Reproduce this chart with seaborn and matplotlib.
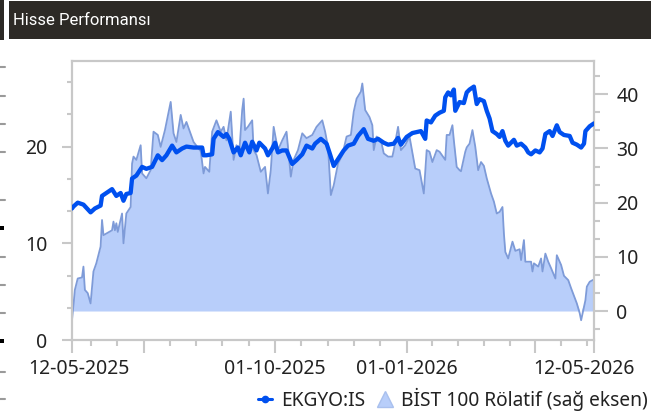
import numpy as np
import pandas as pd
import matplotlib
matplotlib.use("Agg")
import matplotlib.pyplot as plt
import matplotlib.dates as mdates
import matplotlib.transforms as mtransforms
from matplotlib.ticker import MultipleLocator
from matplotlib.lines import Line2D
from matplotlib.patches import Rectangle
import seaborn as sns

# ---------------- data ----------------
START = "2025-05-12"
END = "2026-05-12"

# EKGYO:IS price (left axis); days counted from START
ekgyo_days = [0, 1, 4, 8, 13, 16, 20, 21, 25, 28, 31, 34, 36, 38, 41, 42, 45, 49, 52, 56,
              60, 63, 66, 70, 73, 77, 80, 85, 91, 92, 94, 98, 99, 102, 106, 108, 110, 113,
              116, 118, 121, 124, 126, 129, 131, 135, 137, 140, 142, 144, 147, 150, 154, 157,
              161, 164, 168, 170, 174, 178, 180, 183, 186, 190, 193, 197, 200, 204, 207, 211,
              214, 218, 221, 225, 228, 230, 234, 238, 241, 244, 247, 248, 251, 254, 257, 260,
              261, 263, 265, 267, 268, 271, 274, 276, 278, 281, 283, 285, 288, 290, 292, 294,
              297, 299, 301, 303, 305, 309, 311, 314, 317, 319, 321, 324, 327, 329, 331, 334,
              336, 339, 341, 344, 348, 350, 353, 356, 358, 359, 362, 364, 365]
ekgyo_values = [13.6, 13.8, 14.2, 14.0, 13.2, 13.6, 13.9, 14.9, 15.3, 15.6, 14.9, 15.2, 14.4, 15.1,
                15.2, 16.7, 17.0, 17.9, 17.7, 17.9, 19.1, 18.6, 19.1, 20.1, 19.4, 19.8, 20.0, 19.9,
                19.9, 19.1, 19.1, 19.2, 20.8, 21.5, 21.0, 21.3, 20.8, 19.4, 19.9, 19.1, 20.4, 19.4,
                20.5, 19.6, 20.4, 19.8, 19.1, 19.8, 20.4, 19.4, 19.6, 19.6, 18.2, 18.6, 19.2, 20.1,
                19.8, 20.3, 20.8, 20.3, 19.4, 18.0, 18.7, 19.6, 20.1, 20.3, 21.1, 21.8, 20.8, 20.6,
                20.8, 20.4, 20.2, 20.3, 20.9, 20.2, 21.0, 21.4, 21.5, 21.6, 20.8, 22.7, 22.5, 23.2,
                23.5, 23.7, 25.1, 25.6, 25.3, 25.9, 23.7, 24.6, 24.5, 25.6, 25.9, 26.2, 24.4, 24.9,
                24.7, 23.7, 22.9, 21.6, 21.3, 21.0, 21.6, 20.6, 20.1, 20.7, 20.1, 20.3, 19.9, 19.4,
                19.2, 19.6, 19.4, 19.8, 21.3, 21.6, 21.1, 22.2, 21.5, 21.2, 21.1, 20.4, 20.2, 19.9,
                20.3, 21.6, 22.1, 22.3, 22.4]

# BIST 100 relative (right axis); days counted from START
bist_days = [0, 2, 4, 7, 8, 9, 11, 13, 15, 17, 20, 21, 22, 28, 29, 30, 31, 32, 35, 36, 38, 41,
             42, 43, 45, 48, 49, 52, 55, 57, 60, 62, 65, 69, 71, 73, 76, 78, 80, 85, 90, 92, 93,
             96, 98, 101, 104, 106, 108, 111, 113, 115, 117, 119, 120, 121, 123, 126, 127, 129,
             132, 135, 137, 139, 141, 144, 147, 150, 153, 155, 158, 161, 164, 168, 171, 175, 177,
             179, 181, 183, 186, 189, 192, 195, 197, 199, 202, 203, 205, 208, 210, 211, 213, 216,
             218, 221, 224, 225, 228, 230, 233, 236, 240, 243, 246, 248, 250, 252, 255, 257, 261,
             262, 264, 266, 267, 269, 271, 272, 275, 276, 278, 280, 282, 284, 286, 288, 290, 293,
             295, 297, 299, 301, 302, 303, 305, 308, 310, 313, 314, 316, 317, 321, 322, 323, 326,
             328, 329, 331, 333, 335, 338, 339, 342, 344, 347, 349, 353, 355, 356, 359, 360, 362,
             364, 365]
bist_values = [-1.7, 3.9, 6.0, 6.2, 8.2, 3.9, 3.3, 1.4, 7.3, 8.8, 11.9, 16.8, 14.0, 14.9, 16.5,
               14.9, 16.2, 14.6, 18.0, 12.5, 18.0, 19.2, 27.2, 28.5, 27.9, 30.6, 25.4, 24.5, 26.0,
               33.1, 32.5, 30.3, 33.4, 38.6, 32.8, 31.2, 36.2, 33.7, 34.9, 31.2, 29.5, 25.4, 26.6,
               25.7, 33.1, 35.2, 33.1, 34.0, 31.5, 36.8, 27.9, 30.6, 29.4, 37.1, 39.2, 33.4, 34.0,
               35.2, 29.7, 28.8, 25.7, 26.6, 21.7, 26.0, 34.0, 29.7, 31.5, 33.1, 24.8, 27.9, 29.7,
               32.8, 31.9, 32.5, 34.0, 35.2, 33.1, 30.3, 21.4, 23.2, 27.2, 28.8, 32.2, 32.5, 36.8,
               39.2, 40.5, 42.0, 37.1, 35.8, 34.3, 29.7, 32.2, 31.5, 29.1, 28.5, 28.5, 29.7, 34.0,
               29.7, 30.6, 32.2, 26.3, 26.0, 21.7, 29.7, 29.4, 27.5, 29.7, 29.4, 27.9, 32.5, 32.5,
               34.3, 31.5, 26.6, 26.0, 25.8, 29.4, 30.2, 30.9, 33.4, 30.3, 26.0, 27.5, 26.8, 24.5,
               21.7, 20.2, 18.0, 18.3, 19.2, 14.3, 10.9, 9.7, 12.8, 11.1, 11.4, 9.4, 13.1, 9.1,
               9.1, 7.3, 8.8, 8.2, 9.7, 7.3, 10.6, 9.1, 7.9, 6.0, 10.3, 8.5, 6.5, 5.7, 4.2, 1.4,
               -0.4, -1.7, 2.0, 4.5, 5.4, 5.7, 5.8]

x_major_dates = ["2025-05-12", "2025-07-01", "2025-10-01", "2026-01-01", "2026-04-01", "2026-05-12"]
x_major_labels = ["12-05-2025", "", "01-10-2025", "01-01-2026", "", "12-05-2026"]
quarter_starts = ["2025-04-01", "2025-07-01", "2025-10-01", "2026-01-01", "2026-04-01", "2026-07-01"]

series_names = ["EKGYO:IS", "BİST 100 Rölatif (sağ eksen)"]
title_text = "Hisse Performansı"

# ---------------- styling ----------------
BLUE = "#0050ef"
FILL = "#b8cefa"
BLINE = "#7e9bd8"
GRAY = "#c8c8c8"
TXT = "#222222"
BAR = "#2d2a26"

sns.set_theme(style="white")
plt.rcParams['font.family'] = ['Noto Sans', 'DejaVu Sans']

start = pd.Timestamp(START)
end = pd.Timestamp(END)
df_e = pd.DataFrame({"date": start + pd.to_timedelta(ekgyo_days, unit="D"), "value": ekgyo_values})
df_b = pd.DataFrame({"date": start + pd.to_timedelta(bist_days, unit="D"), "value": bist_values})

W, H = 651, 411
fig = plt.figure(figsize=(W / 100, H / 100), dpi=100, facecolor="white")
ax = fig.add_axes([72 / W, 71 / H, 522 / W, 279 / H])
ax2 = ax.twinx()

ax2.fill_between(df_b["date"].to_numpy(), df_b["value"].clip(lower=0).to_numpy(), 0,
                 color=FILL, lw=0, zorder=1)
sns.lineplot(data=df_b, x="date", y="value", ax=ax2, color=BLINE, lw=1.3, zorder=2)
sns.lineplot(data=df_e, x="date", y="value", ax=ax, color=BLUE, lw=3.1, zorder=3,
             solid_capstyle="round", solid_joinstyle="round")

ax.set_zorder(ax2.get_zorder() + 1)
ax.patch.set_visible(False)

for a in (ax, ax2):
    a.set_xlabel("")
    a.set_ylabel("")
    for s in a.spines.values():
        s.set_color(GRAY)
        s.set_linewidth(1.5)
        s.set_visible(True)
    a.grid(False)

ax.set_xlim(start, end)
ax.set_ylim(0, 28.85)
ax2.set_ylim(-5.35, 46.15)

ax.yaxis.set_major_locator(MultipleLocator(10))
ax.yaxis.set_minor_locator(MultipleLocator(10 / 3))
ax2.yaxis.set_major_locator(MultipleLocator(10))
ax2.yaxis.set_minor_locator(MultipleLocator(10 / 3))

# x ticks
maj = mdates.date2num(pd.to_datetime(x_major_dates))
ax.set_xticks(maj)
ax.set_xticklabels(x_major_labels)
qs = pd.to_datetime(quarter_starts)
minor = []
for a_, b_ in zip(qs[:-1], qs[1:]):
    step = (b_ - a_) / 5
    for k in range(1, 5):
        d = a_ + step * k
        if start < d < end:
            minor.append(mdates.date2num(d))
ax.set_xticks(minor, minor=True)

ax.tick_params(axis="x", which="major", bottom=True, top=False, length=9, width=1.5,
               color=GRAY, labelsize=14, labelcolor=TXT, pad=5, direction="out")
ax.tick_params(axis="x", which="minor", bottom=True, top=False, length=4, width=1.5,
               color=GRAY, direction="out")
ax.tick_params(axis="y", which="major", left=True, right=False, labelleft=True, labelright=False,
               length=7.2, width=1.5, color=GRAY, labelsize=14, labelcolor=TXT, pad=10.5,
               direction="out")
ax.tick_params(axis="y", which="minor", left=True, right=False, length=3.6, width=1.5,
               color=GRAY, direction="out")
ax2.tick_params(axis="y", which="major", right=True, left=False, labelright=True, labelleft=False,
                length=10, width=1.5, color=GRAY, labelsize=14, labelcolor=TXT, pad=6,
                direction="out")
ax2.tick_params(axis="y", which="minor", right=True, left=False, length=4, width=1.5,
                color=GRAY, direction="out")
ax2.tick_params(axis="x", which="both", bottom=False, top=False, labelbottom=False)

# nudge the end labels inward like the reference
labels = ax.get_xticklabels()
labels[0].set_transform(labels[0].get_transform() +
                        mtransforms.ScaledTranslation(5 / 72, 0, fig.dpi_scale_trans))
labels[-1].set_transform(labels[-1].get_transform() +
                         mtransforms.ScaledTranslation(-7 / 72, 0, fig.dpi_scale_trans))

# legend
handles = [
    Line2D([], [], color=BLUE, lw=2.2, marker="o", ms=4.5),
    Line2D([], [], ls="none", marker="^", ms=11, mfc=FILL, mec="#a9c0ee", mew=1),
]
fig.legend(handles, series_names, loc="center right", bbox_to_anchor=(648 / W, 1 - 399 / H),
           ncol=2, frameon=False, handlelength=0.75, handletextpad=0.45,
           columnspacing=0.7, borderpad=0, borderaxespad=0,
           prop={"family": ["Noto Sans", "DejaVu Sans"], "size": 13.8})
for t in fig.legends[0].get_texts():
    t.set_color(TXT)

# title bar
fig.add_artist(Rectangle((9 / W, 1 - 39 / H), 642 / W, 38 / H, transform=fig.transFigure,
                         color=BAR, lw=0))
fig.add_artist(Rectangle((0, 1 - 40 / H), 4 / W, 40 / H, transform=fig.transFigure,
                         color=BAR, lw=0))
fig.text(13 / W, 1 - 20.5 / H, title_text, color="white", fontsize=12, va="center", ha="left",
         family=["Roboto", "DejaVu Sans"])

# fragments of the neighbouring element at the left edge
for yy in [67, 96, 124, 152, 200, 257, 285, 313, 372, 399]:
    fig.add_artist(Line2D([0, 5 / W], [1 - yy / H] * 2, transform=fig.transFigure,
                          color="#9a9a9a", lw=1.5))
for yy in [228, 341]:
    fig.add_artist(Rectangle((0, 1 - (yy + 2) / H), 4 / W, 4 / H, transform=fig.transFigure,
                             color="black", lw=0))

fig.savefig("out.png", dpi=100, facecolor="white")
